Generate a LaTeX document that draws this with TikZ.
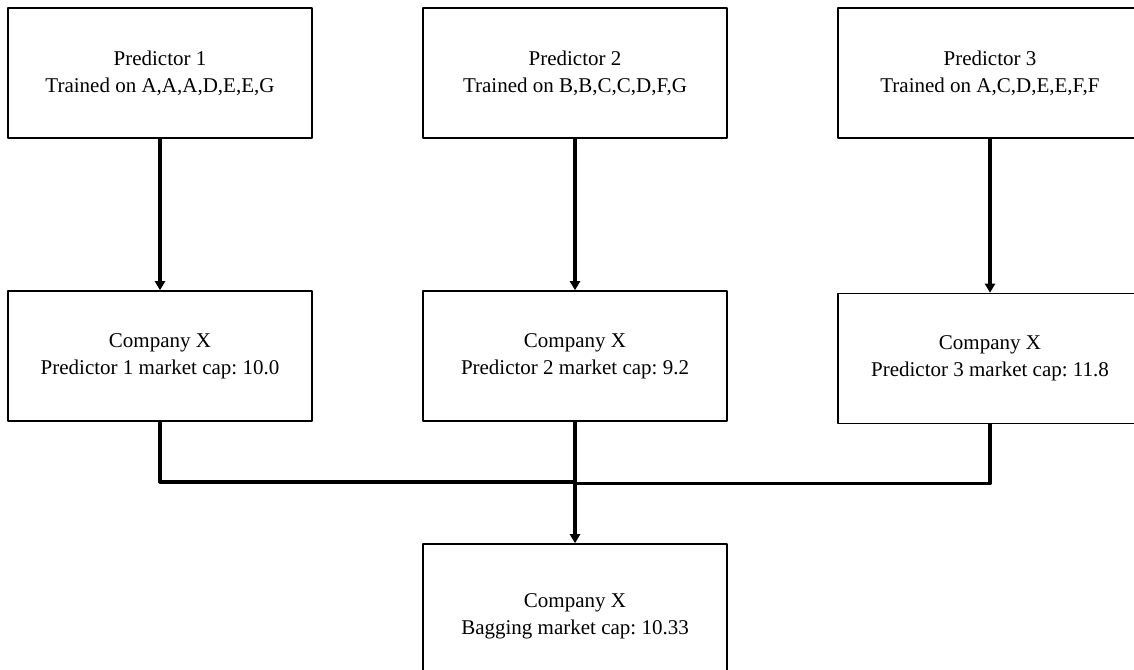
\documentclass[tikz,border=0pt]{standalone}
\usepackage{fontspec}
\setmainfont{Liberation Serif}
\usetikzlibrary{arrows.meta}
\frenchspacing

\begin{document}
\begin{tikzpicture}[x=0.5pt, y=-0.5pt, >={Triangle[length=4.5pt,width=5pt]}, line join=round,
	box/.style={draw, line width=0.8pt, minimum width=152pt, minimum height=65pt, align=center, inner sep=0pt, font=\fontsize{10.5}{13.6}\selectfont},
	link/.style={line width=1.6pt}]
	\useasboundingbox (0,0) rectangle (1134,669);
	% predictors
	\node[box] (P1) at (160,73) {Predictor 1\\Trained on A,A,A,D,E,E,G};
	\node[box] (P2) at (575,73) {Predictor 2\\Trained on B,B,C,C,D,F,G};
	\node[box] (P3) at (990,73) {Predictor 3\\Trained on A,C,D,E,E,F,F};
	% single predictions
	\node[box] (C1) at (160,356) {Company X\\Predictor 1 market cap: 10.0};
	\node[box] (C2) at (575,356) {Company X\\Predictor 2 market cap: 9.2};
	\node[box] (C3) at (990,358.5) {Company X\\Predictor 3 market cap: 11.8};
	% bagging result
	\node[box, minimum height=72pt] (B) at (575,616) {Company X\\Bagging market cap: 10.33};
	\coordinate (J1) at (575,482);
	\coordinate (J3) at (575,483.5);
	\draw[link,->] (P1) -- (C1);
	\draw[link,->] (P2) -- (C2);
	\draw[link,->] (P3) -- (C3);
	\draw[link] (C1.south) |- (J1);
	\draw[link] (C3.south) |- (J3);
	\draw[link,->] (C2) -- (B);
\end{tikzpicture}
\end{document}
